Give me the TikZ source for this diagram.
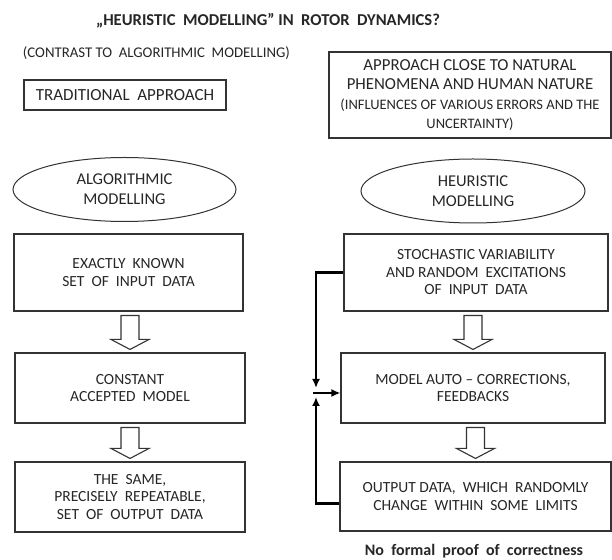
\documentclass[tikz,border=0pt]{standalone}
\usepackage{fontspec}
\setmainfont{Carlito}
\usetikzlibrary{shapes.geometric,arrows.meta,calc}
\newcommand{\headfont}{\fontsize{16.8}{19.5}\selectfont}

\begin{document}
\begin{tikzpicture}[x=1pt, y=1pt,
  every node/.style={font=\fontsize{15.5}{17.5}\selectfont, text=black!85},
  box/.style={draw=black!80, line width=1.1pt, align=center, inner sep=0pt},
  oval/.style={ellipse, draw=black!80, line width=1pt, align=center, inner sep=0pt,
    minimum width=223pt, minimum height=64pt, font=\fontsize{16.5}{20}\selectfont},
  hollow/.style={draw=black!80, line width=1.1pt, fill=white},
  feedback/.style={line width=2.4pt, -{Latex[length=9pt,width=8pt]}}]
  \useasboundingbox (0,0) rectangle (612,559);
  % headings
  \node[font=\bfseries\fontsize{16.6}{19}\selectfont] (title) at (268,538)
    {„HEURISTIC\ \ MODELLING” IN\ \ ROTOR\ \ DYNAMICS?};
  \node[font=\fontsize{14.8}{19}\selectfont] (contrast) at (156.5,506)
    {(CONTRAST TO\ \ ALGORITHMIC\ \ MODELLING)};
  \node[box, minimum width=202pt, minimum height=30pt, font=\fontsize{17}{19}\selectfont]
    (trad) at (125,464) {TRADITIONAL\ \ APPROACH};
  \node[box, minimum width=282pt, minimum height=86pt, font=\fontsize{14.5}{19.5}\selectfont]
    (nature) at (470,464)
    {{\headfont APPROACH CLOSE TO NATURAL}\\{\headfont PHENOMENA AND HUMAN NATURE}\\
     (INFLUENCES OF VARIOUS ERRORS AND THE\\UNCERTAINTY)};
  % the two ways of modelling
  \node[oval] (algo) at (124.5,369.5) {ALGORITHMIC\\MODELLING};
  \node[oval, minimum width=224pt] (heur) at (473,368) {HEURISTIC\\MODELLING};
  % left column
  \node[box, minimum width=229pt, minimum height=77pt] (in1) at (128.5,286.5)
    {EXACTLY\ \ KNOWN\\SET\ \ OF\ \ INPUT\ \ DATA};
  \node[box, minimum width=230pt, minimum height=70pt] (mod1) at (130,171)
    {CONSTANT\\ACCEPTED\ \ MODEL};
  \node[box, minimum width=230pt, minimum height=70pt] (out1) at (130,62)
    {THE\ \ SAME,\\PRECISELY\ \ REPEATABLE,\\SET\ \ OF\ \ OUTPUT\ \ DATA};
  % right column
  \node[box, minimum width=264pt, minimum height=77pt] (in2) at (476,286.5)
    {STOCHASTIC VARIABILITY\\AND RANDOM\ \ EXCITATIONS\\OF\ \ INPUT\ \ DATA};
  \node[box, minimum width=264pt, minimum height=70pt] (mod2) at (473,171)
    {MODEL AUTO -- CORRECTIONS,\\FEEDBACKS};
  \node[box, minimum width=271pt, minimum height=69pt] (out2) at (475.5,62.5)
    {OUTPUT DATA,\ \ WHICH\ \ RANDOMLY\\CHANGE\ \ WITHIN\ \ SOME\ \ LIMITS};
  \node[font=\bfseries\fontsize{16}{19}\selectfont] (proof) at (474,8)
    {No\ \ formal\ \ proof\ \ of\ \ correctness};
  % hollow block arrows
  \foreach \a/\b in {in1/mod1, mod1/out1, in2/mod2, mod2/out2}
    {\path (\a.south) ++(0,-4) coordinate (s0) (\b.north) ++(0,3) coordinate (t)
       (t |- s0) coordinate (s);
     \draw[hollow] ($(s)+(-9,0)$) -- ($(t)+(-9,10)$) -- ($(t)+(-19,10)$) -- (t)
       -- ($(t)+(19,10)$) -- ($(t)+(9,10)$) -- ($(s)+(9,0)$) -- cycle;}
  % feedback loop
  \coordinate (junc) at (316,166);
  \draw[feedback] (in2.west) -| ($(junc)+(0,5)$);
  \draw[feedback] ([yshift=-7pt]out2.west) -| ($(junc)+(0,-4)$);
  \draw[feedback] ($(junc)+(-3,0)$) -- (mod2.west |- junc);
\end{tikzpicture}
\end{document}
